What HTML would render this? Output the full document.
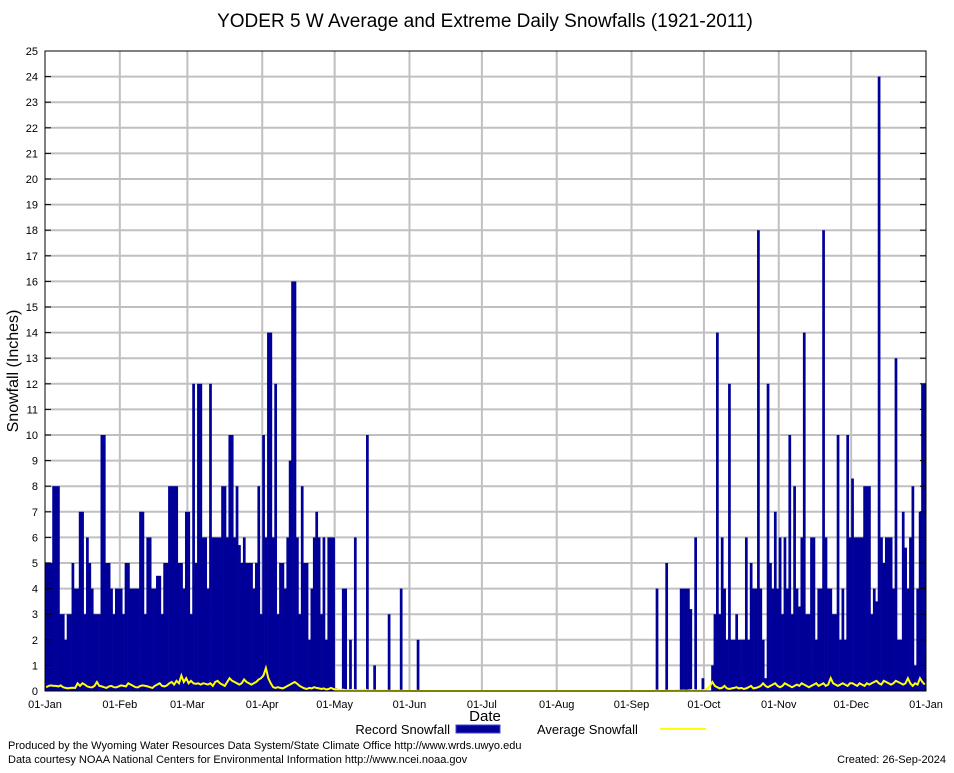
<!DOCTYPE html>
<html><head><meta charset="utf-8">
<style>
body{margin:0;background:#fff;font-family:"Liberation Sans",sans-serif;}
svg text{font-family:"Liberation Sans",sans-serif;}
</style></head>
<body>
<svg id="chart" width="954" height="768" xmlns="http://www.w3.org/2000/svg">
<rect width="954" height="768" fill="#fff"/>
<text x="485" y="27" font-size="19" text-anchor="middle">YODER 5 W Average and Extreme Daily Snowfalls (1921-2011)</text>
<text transform="translate(18,371) rotate(-90)" font-size="16" text-anchor="middle">Snowfall (Inches)</text>
<text x="485" y="721" font-size="15" text-anchor="middle">Date</text>
<g id="grid"></g><g id="bars"></g><g id="avg"></g><g id="axes"></g>
<g>
<text x="450" y="734" font-size="13" text-anchor="end">Record Snowfall</text>
<rect x="456" y="725" width="44" height="8" fill="#000099" stroke="#4444cc"/>
<text x="537" y="734" font-size="13">Average Snowfall</text>
<line x1="660" y1="729" x2="706" y2="729" stroke="#ffff00" stroke-width="2"/>
</g>
<text x="8" y="749" font-size="11">Produced by the Wyoming Water Resources Data System/State Climate Office http://www.wrds.uwyo.edu</text>
<text x="8" y="763" font-size="11">Data courtesy NOAA National Centers for Environmental Information http://www.ncei.noaa.gov</text>
<text x="946" y="763" font-size="11" text-anchor="end">Created:  26-Sep-2024</text>
</svg>
<script>
const monthLabels=["01-Jan","01-Feb","01-Mar","01-Apr","01-May","01-Jun","01-Jul","01-Aug","01-Sep","01-Oct","01-Nov","01-Dec","01-Jan"];
const monthStarts=[0,31,59,90,120,151,181,212,243,273,304,334,365];
const yTicks=[0,1,2,3,4,5,6,7,8,9,10,11,12,13,14,15,16,17,18,19,20,21,22,23,24,25];
const recordSpring=[5,5,5,8,8,8,3,3,2,3,3,5,4,4,7,7,3,6,5,4,3,3,3,10,10,5,5,4,3,4,4,4,3,5,5,4,4,4,4,7,7,3,6,6,4,4,4.5,4.5,3,5,5,8,8,8,8,5,5,4,7,7,
3,12,5,12,12,6,6,4,12,6,6,6,6,8,8,6,10,10,6,8,5.7,5,6,5,5,5,4,5,8,3,10,6,14,14,6,12,3,5,5,4,6,9,16,16,6,3,8,5,5,2,4,6,7,6,3,6,2,6,6,6,0.1,0,0,4,4,
0,2,0,6,0,0,0,0,10,0,0,1,0,0,0,0,0,3,0,0,0,0,4,0,0,0,0,0,0,2];
const recordFall=[4,0,0,0,5,0,0,0,0,0,4,4,4,4,3.2,0,6,0,0,0.5,0,0,0,1,3,14,3,6,4,2,12,2,2,3,2,2,2,6,2,5,4,4,18,4,2,0.5,12,5,4,7,4,6,3,6,4,10,3,8,4,3.3,6,14,3,3,6,6,2,4,4,18,6,4,4,3,3,10,2,4,2,10,6,8.3,6,6,6,6,8,8,8,3,4,3.5,24,6,5,6,6,6,4,13,2,2,7,5.6,4,6,8,1,4,7,12,12];
const avgJan=[.15,.2,.22,.2,.2,.18,.22,.15,.12,.1,.12,.13,.12,.3,.2,.3,.25,.18,.15,.14,.2,.35,.2,.18,.15,.12,.18,.2,.15,.14,.18];
const avgFeb=[.22,.2,.18,.3,.25,.2,.15,.14,.2,.22,.2,.18,.15,.12,.2,.25,.3,.2,.18,.22,.3,.35,.25,.4,.3,.6,.35,.5];
const avgMar=[.3,.4,.3,.28,.3,.25,.3,.28,.25,.3,.2,.35,.4,.3,.25,.2,.35,.5,.4,.35,.3,.25,.3,.45,.35,.3,.25,.3,.35,.45,.5];
const avgApr=[.6,.9,.5,.3,.15,.12,.15,.12,.1,.15,.2,.25,.3,.35,.28,.2,.15,.1,.08,.12,.1,.15,.12,.1,.08,.1,.06,.08,.12,.08];
const avgMay=[.05,.06,.04,.05,.03,.04,.03,.05,.03,.02,.03,.02,.06,.03,.02,.01,.02,.01,.01,.01,.02,.01,.01,.01,.01,.01,.01,.01,.01,0,.01];
const avgJun=[.01,0,0,.01,0,0,0,0,0,0,0,0,0,0,0,0,0,0,0,0,0,0,0,0,0,0,0,0,0,0];
const avgJul=[0,0,0,0,0,0,0,0,0,0,0,0,0,0,0,0,0,0,0,0,0,0,0,0,0,0,0,0,0,0,0];
const avgAug=[0,0,0,0,0,0,0,0,0,0,0,0,0,0,0,0,0,0,0,0,0,0,0,0,0,0,0,0,0,0,0];
const avgSep=[0,0,0,0,0,0,0,0,0,.01,.02,.01,0,0,.01,.02,.01,.01,.02,.03,.01,.02,.01,.02,.03,.05,.02,.03,.02,.03];
const avgOct=[.05,.1,.2,.35,.2,.15,.1,.12,.2,.1,.08,.1,.12,.15,.1,.12,.08,.1,.15,.2,.1,.12,.15,.2,.3,.2,.15,.2,.25,.3,.2];
const avgNov=[.15,.2,.3,.25,.2,.15,.2,.25,.2,.3,.25,.2,.15,.2,.25,.3,.2,.25,.3,.2,.25,.5,.3,.25,.2,.25,.3,.25,.2,.3];
const avgDec=[.3,.25,.2,.3,.25,.2,.3,.25,.3,.35,.4,.3,.25,.4,.35,.3,.25,.3,.4,.35,.3,.25,.3,.5,.3,.2,.3,.25,.5,.35,.25];

const NS="http://www.w3.org/2000/svg";
const L=45,R=926,T=51,B=691,DAYS=365,YMAX=25;
const xs=d=>L+(R-L)*d/DAYS;
const ys=v=>B-(B-T)*v/YMAX;
function mk(tag,attrs,parent){const e=document.createElementNS(NS,tag);for(const k in attrs)e.setAttribute(k,attrs[k]);parent.appendChild(e);return e;}
const record=recordSpring.concat(new Array(253-recordSpring.length).fill(0)).concat(recordFall).slice(0,DAYS);
const avg=[].concat(avgJan,avgFeb,avgMar,avgApr,avgMay,avgJun,avgJul,avgAug,avgSep,avgOct,avgNov,avgDec).slice(0,DAYS);
const grid=document.getElementById('grid'),bars=document.getElementById('bars'),axes=document.getElementById('axes'),avgG=document.getElementById('avg');
yTicks.forEach(v=>{
  if(v>0&&v<YMAX){const g=mk('line',{x1:L,x2:R,y1:ys(v),y2:ys(v),stroke:'#c0c0c0','stroke-width':2},grid);
  
  }
  const t=mk('text',{x:38,y:ys(v)+4,'font-size':11,'text-anchor':'end'},axes);t.textContent=v;
  
  
  mk('line',{x1:L,x2:L+6,y1:ys(v),y2:ys(v),stroke:'#000'},axes);
  mk('line',{x1:R-6,x2:R,y1:ys(v),y2:ys(v),stroke:'#000'},axes);
});
monthStarts.forEach((d,i)=>{
  if(i>0&&i<monthStarts.length-1){const g=mk('line',{x1:xs(d),x2:xs(d),y1:T,y2:B,stroke:'#c0c0c0','stroke-width':2},grid);
  
  }
  const t=mk('text',{x:xs(d),y:708,'font-size':11,'text-anchor':'middle'},axes);t.textContent=monthLabels[i];
  
  
});
record.forEach((v,d)=>{
  if(v<=0)return;
  const r=mk('rect',{x:xs(d),y:ys(v),width:(R-L)/DAYS+0.3,height:B-ys(v),fill:'#000099'},bars);
  
  
});
const pts=avg.map((v,d)=>xs(d+0.5).toFixed(1)+','+ys(v).toFixed(1)).join(' ');
const pl=mk('polyline',{points:pts,fill:'none',stroke:'#ffff00','stroke-width':2},avgG);


const fr=mk('rect',{x:L,y:T,width:R-L,height:B-T,fill:'none',stroke:'#000','stroke-width':1},axes);


</script>
</body></html>
